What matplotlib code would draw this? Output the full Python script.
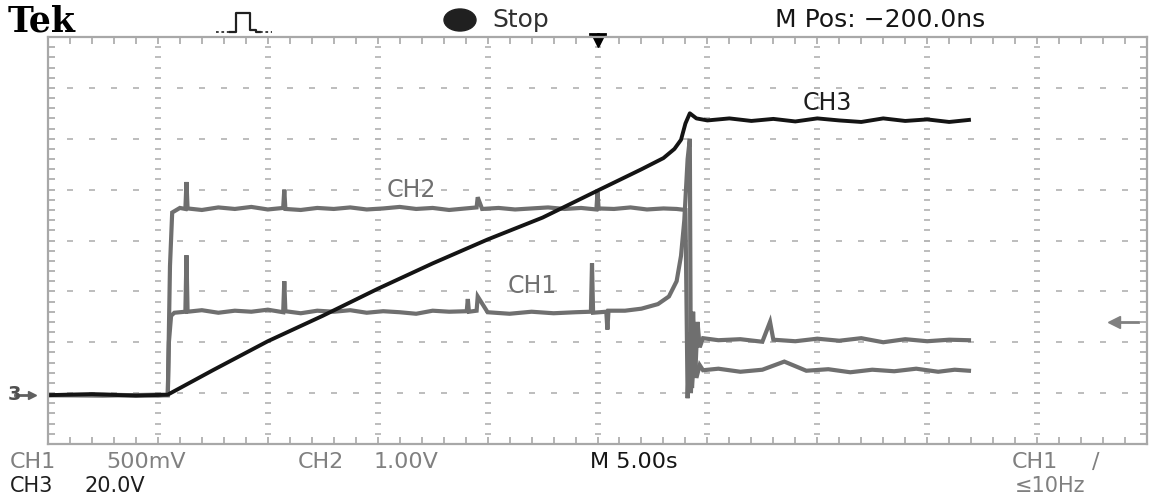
import numpy as np
import matplotlib
matplotlib.use('Agg')
import matplotlib.pyplot as plt
from matplotlib.patches import Ellipse
from matplotlib.lines import Line2D

# traces in screen divisions (x: 10 div, 5.00 s/div ; y: 8 div)
ch3_x = [0, 0.4, 0.8, 1.09, 1.5, 2.0, 2.5, 3.0, 3.5, 4.0, 4.5, 5.0, 5.4, 5.6, 5.7, 5.76,
         5.8, 5.84, 5.9, 6.0, 6.2, 6.4, 6.6, 6.8, 7.0, 7.2, 7.4, 7.6, 7.8, 8.0, 8.2, 8.38]
ch3_y = [0.96, 0.98, 0.95, 0.97, 1.45, 2.02, 2.52, 3.05, 3.55, 4.02, 4.45, 4.98, 5.4, 5.62, 5.8, 5.98,
         6.3, 6.5, 6.4, 6.36, 6.4, 6.35, 6.39, 6.34, 6.4, 6.36, 6.33, 6.4, 6.35, 6.38, 6.33, 6.37]

ch2_x = [0, 0.5, 1.0, 1.09, 1.11, 1.13, 1.2, 1.25, 1.26, 1.27, 1.4, 1.55, 1.7, 1.85, 2.0, 2.14, 2.15, 2.16,
         2.3, 2.45, 2.6, 2.75, 2.9, 3.05, 3.2, 3.35, 3.5, 3.65, 3.8, 3.9, 3.91, 3.95, 4.1, 4.25, 4.4,
         4.55, 4.7, 4.85, 4.99, 5.0, 5.01, 5.15, 5.3, 5.45, 5.6, 5.72, 5.8, 5.82, 5.84, 5.86, 5.88, 5.9,
         5.93, 5.96, 6.1, 6.3, 6.5, 6.7, 6.9, 7.1, 7.3, 7.5, 7.7, 7.9, 8.1, 8.25, 8.38]
ch2_y = [0.96, 0.97, 0.95, 0.96, 3.5, 4.55, 4.64, 4.62, 5.15, 4.63, 4.6, 4.65, 4.62, 4.66, 4.61, 4.64, 5.0, 4.62,
         4.6, 4.64, 4.62, 4.65, 4.61, 4.63, 4.66, 4.62, 4.64, 4.6, 4.63, 4.65, 4.85, 4.62, 4.64, 4.61, 4.63,
         4.65, 4.62, 4.64, 4.61, 4.95, 4.63, 4.62, 4.65, 4.61, 4.63, 4.62, 4.6, 0.9, 2.2, 1.1, 1.8, 1.3,
         1.55, 1.45, 1.48, 1.42, 1.46, 1.62, 1.44, 1.47, 1.41, 1.46, 1.43, 1.48, 1.42, 1.46, 1.44]

ch1_x = [0, 0.5, 1.0, 1.09, 1.1, 1.12, 1.15, 1.25, 1.26, 1.27, 1.4, 1.55, 1.7, 1.85, 2.0, 2.14, 2.15, 2.16,
         2.3, 2.45, 2.6, 2.75, 2.9, 3.05, 3.2, 3.35, 3.5, 3.65, 3.81, 3.82, 3.83, 3.9, 3.91, 4.0, 4.2,
         4.4, 4.6, 4.8, 4.94, 4.95, 4.96, 5.08, 5.09, 5.1, 5.25, 5.4, 5.55, 5.65, 5.72, 5.76, 5.79,
         5.82, 5.84, 5.85, 5.87, 5.89, 5.91, 5.93, 5.96, 6.1, 6.3, 6.5, 6.57, 6.6, 6.8, 7.0, 7.2,
         7.4, 7.6, 7.8, 8.0, 8.2, 8.38]
ch1_y = [0.96, 0.95, 0.97, 0.96, 2.0, 2.52, 2.58, 2.6, 3.71, 2.6, 2.63, 2.58, 2.62, 2.6, 2.64, 2.59, 3.2, 2.61,
         2.57, 2.62, 2.6, 2.63, 2.58, 2.61, 2.59, 2.56, 2.62, 2.6, 2.61, 2.85, 2.6, 2.62, 2.9, 2.59, 2.56,
         2.6, 2.57, 2.59, 2.6, 3.55, 2.58, 2.6, 2.25, 2.62, 2.62, 2.66, 2.75, 2.9, 3.2, 3.7, 4.4,
         5.6, 6.0, 1.0, 2.6, 1.4, 2.4, 1.9, 2.08, 2.04, 2.06, 2.01, 2.4, 2.05, 2.02, 2.07, 2.03,
         2.08, 2.0, 2.06, 2.02, 2.05, 2.04]

labels = ['CH1', 'CH2', 'CH3']
label_pos = [(4.41, 3.1), (3.31, 4.99), (7.09, 6.7)]

W, H = 1159, 499
fig = plt.figure(figsize=(W / 100, H / 100), dpi=100)
fig.patch.set_facecolor('white')
ax = fig.add_axes([48 / W, 55 / H, 1099 / W, 407 / H])
ax.set_xlim(0, 10)
ax.set_ylim(0, 8)

gridc = '#b8b8b8'
for s in ax.spines.values():
    s.set_color('#a8a8a8')
    s.set_linewidth(1.6)
ax.set_xticks(np.arange(0, 10.01, 1))
ax.set_yticks(np.arange(0, 8.01, 1))
ax.set_xticks(np.arange(0, 10.01, 0.2), minor=True)
ax.set_yticks(np.arange(0, 8.01, 0.2), minor=True)
ax.tick_params(which='both', direction='in', top=True, right=True, length=5, width=1.2,
               color='#a8a8a8', labelbottom=False, labelleft=False)

# dotted graticule
for gx in range(1, 10):
    yy = np.arange(0.2, 8, 0.2)
    ax.plot(np.full_like(yy, gx), yy, ls='none', marker='_', ms=4, mew=1.3, color=gridc)
for gy in range(1, 8):
    xx = np.arange(0.2, 10, 0.2)
    ax.plot(xx, np.full_like(xx, gy), ls='none', marker='_', ms=4, mew=1.3, color=gridc)

gray = '#6f6f6f'
ax.plot(ch2_x, ch2_y, color=gray, lw=3.0, solid_joinstyle='miter')
ax.plot(ch1_x, ch1_y, color=gray, lw=3.0, solid_joinstyle='miter')
ax.plot(ch3_x, ch3_y, color='#141414', lw=2.8)

for lab, (lx, ly) in zip(labels, label_pos):
    ax.text(lx, ly, lab, ha='center', va='center', fontsize=17,
            color='#1e1e1e' if lab == 'CH3' else '#707070')

# trigger position arrow (top) and trigger level arrow (right)
ax.plot([5], [7.93], marker='v', ms=9, color='black', clip_on=False)
ax.plot([4.93, 5.07], [8.05, 8.05], color='black', lw=2, clip_on=False)
ax.plot([5, 5], [8.05, 7.9], color='black', lw=2, clip_on=False)
ax.plot([9.7], [2.4], marker='<', ms=9, color='#808080', clip_on=False)
ax.plot([9.7, 9.92], [2.4, 2.4], color='#808080', lw=2, clip_on=False)

# ground marker at left
ax.plot([-0.15], [0.96], marker='>', ms=6, color='#606060', clip_on=False)
ax.plot([-0.3, -0.15], [0.96, 0.96], color='#606060', lw=2, clip_on=False)
fig.text(8 / W, 1 - 395 / H, '3', fontsize=14, fontweight='bold', color='#505050', va='center')

# header
def ft(x, y, s, **kw):
    fig.text(x / W, 1 - y / H, s, va='center', **kw)

ft(8, 21, 'Tek', fontsize=25, fontweight='bold', family='DejaVu Serif', color='black')
fig.add_artist(Line2D(np.array([216, 230]) / W, 1 - np.array([32, 32]) / H,
                      color='#303030', lw=1.3, ls=(0, (1.5, 1.5))))
fig.add_artist(Line2D(np.array([230, 236, 236, 250, 250, 256, 256, 260]) / W,
                      1 - np.array([32, 32, 13, 13, 30, 30, 32, 32]) / H, color='#202020', lw=1.6))
fig.add_artist(Line2D(np.array([260, 272]) / W, 1 - np.array([32, 32]) / H,
                      color='#303030', lw=1.3, ls=(0, (1.5, 1.5))))
fig.add_artist(Ellipse((460 / W, 1 - 20 / H), 32 / W, 22 / H, color='#202020'))
ft(492, 20, 'Stop', fontsize=18, color='#303030')
ft(775, 20, 'M Pos: \u2212200.0ns', fontsize=18, color='#151515')

# footer
fs = 16
ft(10, 462, 'CH1', fontsize=fs, color='#808080')
ft(106, 462, '500mV', fontsize=fs, color='#808080')
ft(298, 462, 'CH2', fontsize=fs, color='#808080')
ft(374, 462, '1.00V', fontsize=fs, color='#808080')
ft(590, 462, 'M 5.00s', fontsize=fs, color='#151515')
ft(1012, 462, 'CH1', fontsize=fs, color='#808080')
ft(1092, 462, '\u2215', fontsize=fs, color='#808080')
ft(10, 486, 'CH3', fontsize=15, color='#1e1e1e')
ft(84, 486, '20.0V', fontsize=15, color='#1e1e1e')
ft(1015, 486, '\u226410Hz', fontsize=15, color='#808080')

fig.savefig('out.png', dpi=100, facecolor='white')
